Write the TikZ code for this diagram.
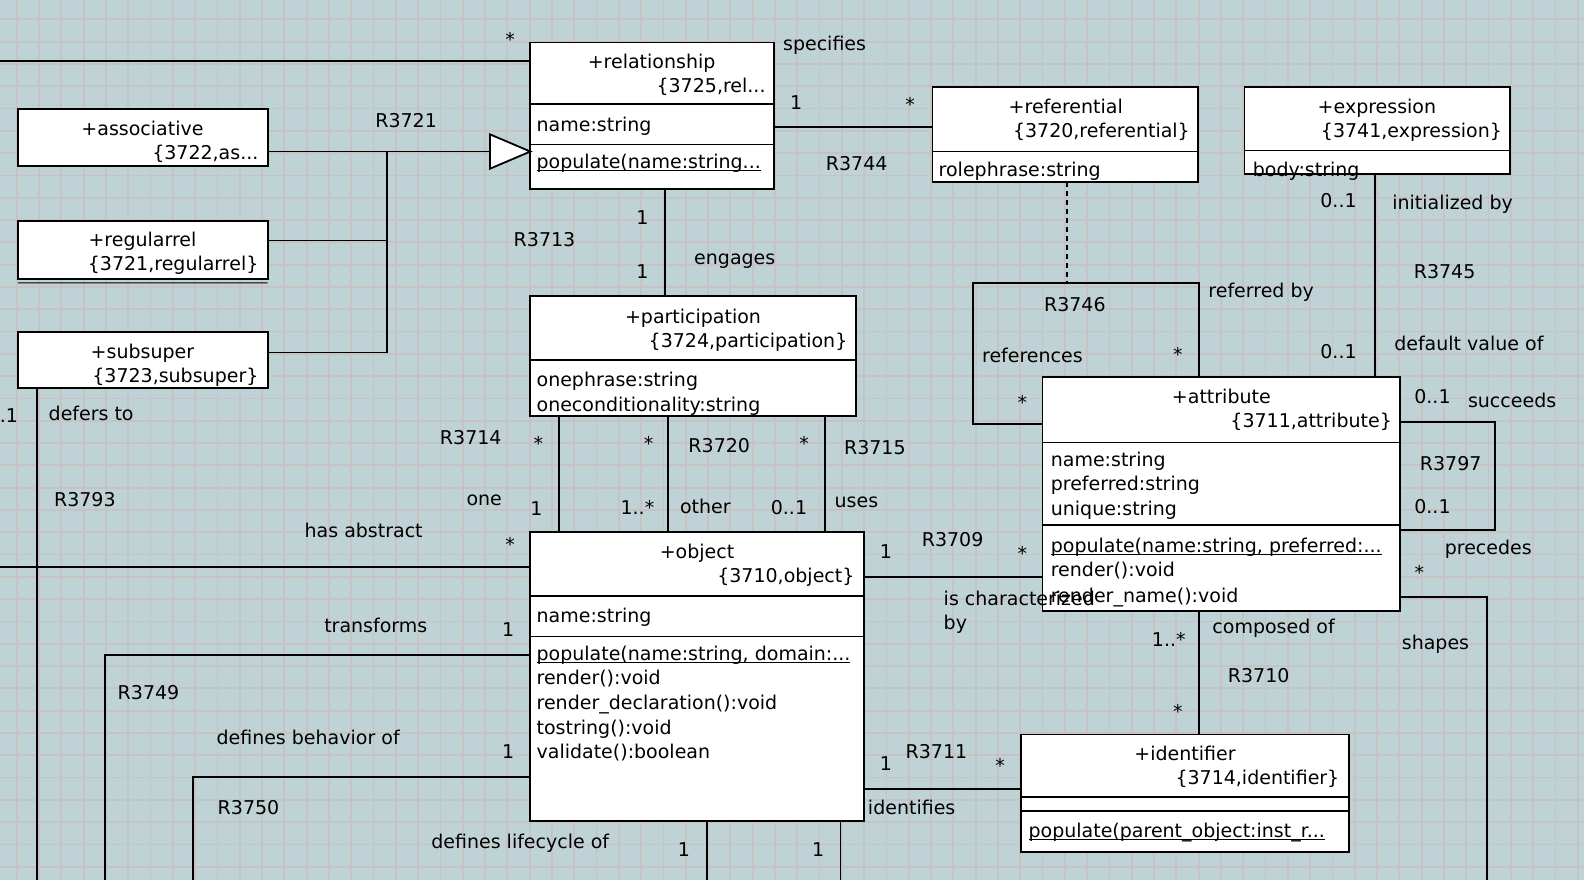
\documentclass[tikz,border=0pt]{standalone}
\usepackage{fontspec}
\setmainfont{DejaVu Sans}
\usepackage{xcolor}

\definecolor{canvas}{RGB}{191,211,214}
\definecolor{gridgray}{RGB}{199,195,195}

% underlined (class scoped) operation
\newcommand{\opline}[1]{\setbox0=\hbox{#1}\rlap{\rule[-2.6pt]{\wd0}{1.4pt}}\box0}

\begin{document}
\begin{tikzpicture}[x=1.0102pt,y=-1.0102pt,
		txt/.style={inner sep=0pt,font=\fontsize{19}{23}\selectfont},
		classbox/.style={draw,line width=1.8pt,fill=white,inner sep=0pt,outer sep=0pt,anchor=north west},
		link/.style={line width=1.8pt},
		gridline/.style={draw=gridgray,line width=1.8pt}]
			\useasboundingbox (0,0) rectangle (1568,871.1);
			\clip (0,0) rectangle (1568,871.1);
			\fill[canvas] (0,0) rectangle (1568,871.1);
			\begin{scope}[x=1pt,y=-1pt]
				\foreach \i in {0,...,70}
					\draw[gridline] ({16.7+22.3*\i},0) -- ++(0,880);
				\foreach \j in {0,...,39}
					\draw[gridline] (0,{19.3+22.3*\j}) -- ++(1584,0);
			\end{scope}
			% classes (sizes in pt)
			\node[classbox,minimum width=243.5pt,minimum height=146.5pt] (rel) at (525,42) {};
			\node[classbox,minimum width=249.5pt,minimum height=56.6pt] (asc) at (18,108) {};
			\node[classbox,minimum width=249.5pt,minimum height=57.6pt] (reg) at (18,219) {};
			\node[classbox,minimum width=249.5pt,minimum height=55.6pt] (sub) at (18,329) {};
			\node[classbox,minimum width=265.7pt,minimum height=95pt] (ref) at (923,86) {};
			\node[classbox,minimum width=265.7pt,minimum height=86.9pt] (expr) at (1232,86) {};
			\node[classbox,minimum width=325.3pt,minimum height=120.2pt] (part) at (525,293) {};
			\node[classbox,minimum width=333.4pt,minimum height=288.9pt] (obj) at (525,527) {};
			\node[classbox,minimum width=357.6pt,minimum height=234.4pt] (attr) at (1032,373) {};
			\node[classbox,minimum width=327.3pt,minimum height=117.2pt] (ident) at (1011,727) {};
			\draw[line width=0.8pt] (reg.south west) ++(0,4) -- (reg.south east |- 0,280);
			\foreach \n/\y in {rel/103,rel/143,ref/150,expr/149,part/356,obj/590,obj/630,attr/438,attr/520,ident/789,ident/803}
				\draw[link] (\n.west |- 0,\y) -- (\n.east |- 0,\y);
			% class names
			\node[txt,anchor=base] at (645,68) {+relationship};
			\node[txt,anchor=base east] at (758,92) {\{3725,rel...};
			\node[txt,anchor=base] at (141,134) {+associative};
			\node[txt,anchor=base east] at (256,158) {\{3722,as...};
			\node[txt,anchor=base] at (141,244) {+regularrel};
			\node[txt,anchor=base east] at (256,268) {\{3721,regularrel\}};
			\node[txt,anchor=base] at (141,355) {+subsuper};
			\node[txt,anchor=base east] at (256,379) {\{3723,subsuper\}};
			\node[txt,anchor=base] at (1055,112) {+referential};
			\node[txt,anchor=base east] at (1178,136) {\{3720,referential\}};
			\node[txt,anchor=base] at (1363,112) {+expression};
			\node[txt,anchor=base east] at (1487,136) {\{3741,expression\}};
			\node[txt,anchor=base] at (686,320) {+participation};
			\node[txt,anchor=base east] at (839,344) {\{3724,participation\}};
			\node[txt,anchor=base] at (690,553) {+object};
			\node[txt,anchor=base east] at (846,577) {\{3710,object\}};
			\node[txt,anchor=base] at (1209,399) {+attribute};
			\node[txt,anchor=base east] at (1378,423) {\{3711,attribute\}};
			\node[txt,anchor=base] at (1173,753) {+identifier};
			\node[txt,anchor=base east] at (1326,777) {\{3714,identifier\}};
			% attributes and operations
			\foreach \x/\y/\t in {531/130/name:string, 929/175/rolephrase:string, 1240/175/body:string,
					531/383/onephrase:string, 531/407/oneconditionality:string, 531/616/name:string,
					531/678/render():void, 531/702/render\_declaration():void, 531/727/tostring():void,
					531/751/validate():boolean, 1040/462/name:string, 1040/486/preferred:string,
					1040/510/unique:string, 1040/571/render():void, 1040/596/render\_name():void}
				\node[txt,anchor=base west] at (\x,\y) {\t};
			\node[txt,anchor=base west] at (531,167) {\opline{populate(name:string...}};
			\node[txt,anchor=base west] at (531,654) {\opline{populate(name:string, domain:...}};
			\node[txt,anchor=base west] at (1040,547) {\opline{populate(name:string, preferred:...}};
			\node[txt,anchor=base west] at (1018,829) {\opline{populate(parent\_object:inst\_r...}};
			% free ends at the border
			\coordinate (wa) at (0,60);
			\coordinate (wb) at (0,561);
			\coordinate (sa) at (37,880);
			\coordinate (sb) at (104,880);
			\coordinate (sc) at (191,880);
			\coordinate (sd) at (700,880);
			\coordinate (se) at (832,880);
			\coordinate (sf) at (1472,880);
			\coordinate (gen) at (rel.west |- 0,150);
			\coordinate (tri) at (485,150);
			\coordinate (junc) at (383,150);
			% associations
			\draw[link] (wa) -- (rel.west |- wa);
			\draw[link] (asc.east |- gen) -- (tri);
			\draw[link,fill=white] (gen) -- (tri |- 0,133) -- (tri |- 0,167) -- cycle;
			\draw[link] (junc) |- (reg.east |- 0,238);
			\draw[link] (junc) |- (sub.east |- 0,349);
			\draw[link] (rel.east |- 0,126) -- (ref.west |- 0,126);
			\draw[link] (rel.south -| 658,0) -- (part.north -| 658,0);
			\foreach \x in {553,661,817}
				\draw[link] (part.south -| \x,0) -- (obj.north -| \x,0);
			\draw[link,dash pattern=on 5pt off 4pt] (ref.south -| 1056,0) -- (1056,280);
			\draw[link] (attr.north -| 1187,0) -- (1187,280) -- (963,280) -- (963,420) -- (attr.west |- 0,420);
			\draw[link] (expr.south -| 1361,0) -- (attr.north -| 1361,0);
			\draw[link] (attr.east |- 0,418) -| (1480,525) -- (attr.east |- 0,525);
			\draw[link] (obj.east |- 0,571) -- (attr.west |- 0,571);
			\draw[link] (attr.south -| 1187,0) -- (ident.north -| 1187,0);
			\draw[link] (obj.east |- 0,781) -- (ident.west |- 0,781);
			\draw[link] (attr.east |- 0,591) -| (sf);
			\draw[link] (sub.south -| sa) -- (sa);
			\draw[link] (wb) -- (obj.west |- wb);
			\draw[link] (obj.west |- 0,648) -| (sb);
			\draw[link] (obj.west |- 0,769) -| (sc);
			\draw[link] (obj.south -| sd) -- (sd);
			\draw[link] (obj.south -| se) -- (se);
			% association labels
			\foreach \x/\y/\t in {505/46/*, 788/108/1, 901/110/*, 848/169/R3744, 402/126/R3721,
					636/222/1, 636/276/1, 539/244/R3713, 1064/308/R3746, 1166/358/*, 1012/405/*,
					1325/205/0..1, 1430/276/R3745, 1325/355/0..1, 1418/399/0..1, 1436/466/R3797,
					1418/508/0..1, 1405/574/*, 466/440/R3714, 533/446/*, 531/510/1, 642/446/*,
					712/448/R3720, 631/509/1..*, 796/446/*, 866/450/R3715, 781/509/0..1,
					84/501/R3793, 360/532/has abstract, 505/546/*, 372/626/transforms, 503/630/1,
					147/692/R3749, 305/737/defines behavior of, 503/751/1, 246/806/R3750,
					515/840/defines lifecycle of, 677/848/1, 810/848/1, 877/553/1, 943/541/R3709,
					1012/555/*, 1157/640/1..*, 1246/676/R3710, 1166/711/*, 877/763/1,
					927/751/R3711, 990/765/*, 1421/643/shapes}
				\node[txt,anchor=base] at (\x,\y) {\t};
			\foreach \x/\y/\t in {775/50/specifies, 687/262/engages, 1196/294/referred by,
					972/359/references, 1378/207/initialized by, 1380/347/default value of,
					1453/403/succeeds, 1430/549/precedes, 826/502/uses, 673/508/other,
					48/416/defers to, 934/599/is characterized, 934/623/by, 1200/627/composed of,
					859/806/identifies}
				\node[txt,anchor=base west] at (\x,\y) {\t};
			\node[txt,anchor=base east] at (497,500) {one};
			\node[txt,anchor=base east] at (18,418) {0..1};
		\end{tikzpicture}
\end{document}
